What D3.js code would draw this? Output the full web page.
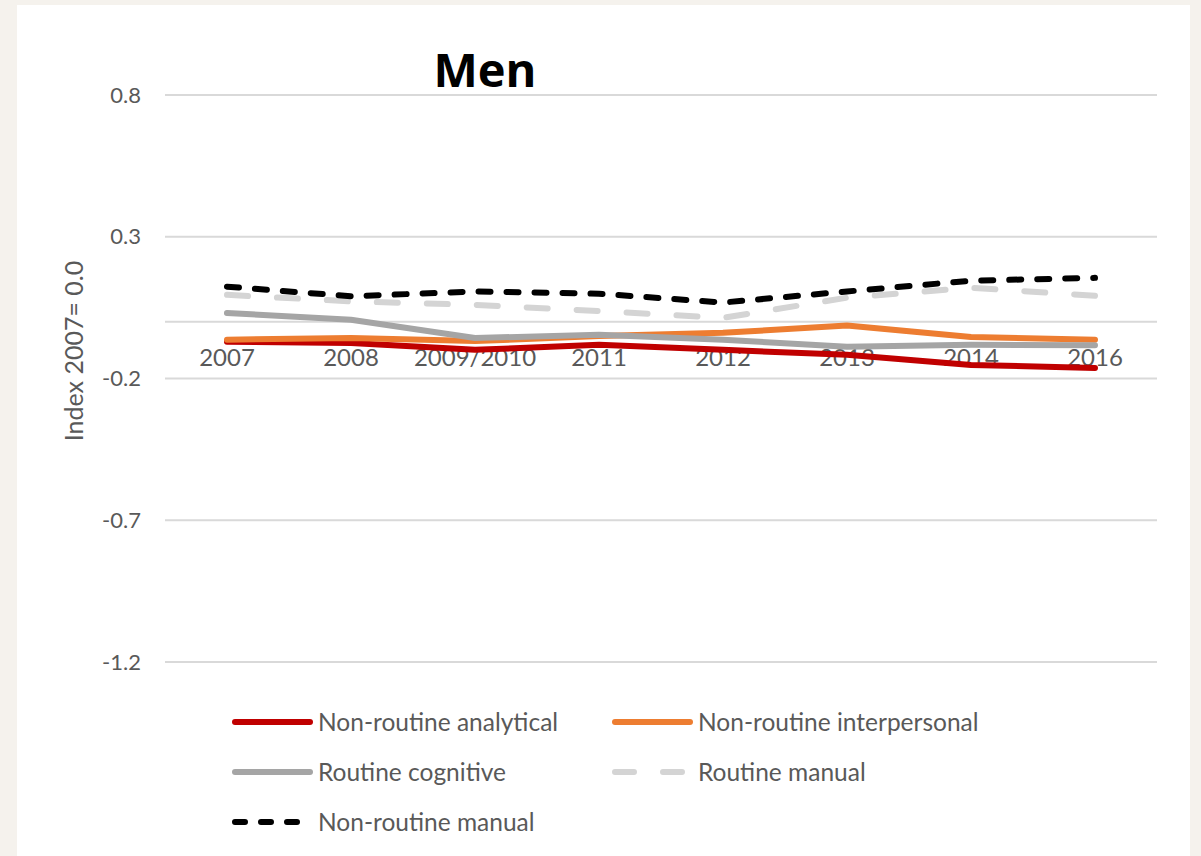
<!DOCTYPE html>
<html>
<head>
<meta charset="utf-8">
<script src="https://cdn.jsdelivr.net/npm/d3@7"></script>
<style>
  body { margin: 0; background: #f5f2ed; }
  svg { display: block; }
</style>
</head>
<body>
<svg width="1201" height="856"></svg>
<script>
const years = ["2007", "2008", "2009/2010", "2011", "2012", "2013", "2014", "2016"];
const yTicks = [0.8, 0.3, -0.2, -0.7, -1.2];

const nonRoutineAnalytical = [-0.07, -0.075, -0.099, -0.081, -0.099, -0.116, -0.152, -0.163];
const nonRoutineInterpersonal = [-0.063, -0.057, -0.068, -0.05, -0.039, -0.013, -0.054, -0.063];
const routineCognitive = [0.031, 0.007, -0.057, -0.046, -0.063, -0.088, -0.081, -0.083];
const routineManual = [0.095, 0.072, 0.06, 0.038, 0.014, 0.085, 0.12, 0.092];
const nonRoutineManual = [0.124, 0.09, 0.107, 0.099, 0.068, 0.107, 0.145, 0.155];

const series = [
  { name: "Non-routine analytical", values: nonRoutineAnalytical, color: "#c00000", dash: null },
  { name: "Non-routine interpersonal", values: nonRoutineInterpersonal, color: "#ed7d31", dash: null },
  { name: "Routine cognitive", values: routineCognitive, color: "#a5a5a5", dash: null },
  { name: "Routine manual", values: routineManual, color: "#d4d4d4", dash: "21,29" },
  { name: "Non-routine manual", values: nonRoutineManual, color: "#000000", dash: "12,16" }
];

const font = "Lato, 'Liberation Sans', sans-serif";
const svg = d3.select("svg");

// white panel
svg.append("rect")
  .attr("x", 17).attr("y", 5)
  .attr("width", 1173).attr("height", 860)
  .attr("fill", "#ffffff");

const x = d3.scalePoint().domain(years).range([165, 1157]).padding(0.5);
const y = d3.scaleLinear().domain([-1.2, 0.8]).range([662, 95]);

// gridlines
svg.append("g")
  .selectAll("line")
  .data(yTicks)
  .join("line")
  .attr("x1", 165).attr("x2", 1157)
  .attr("y1", d => y(d)).attr("y2", d => y(d))
  .attr("stroke", "#d9d9d9")
  .attr("stroke-width", 2);

svg.append("g")
  .selectAll("text")
  .data(yTicks)
  .join("text")
  .attr("x", 141)
  .attr("y", d => y(d))
  .attr("dy", "0.35em")
  .attr("text-anchor", "end")
  .attr("font-family", font)
  .attr("font-size", 22)
  .attr("fill", "#595959")
  .text(d => d.toFixed(1));

// category axis at zero
svg.append("line")
  .attr("x1", 165).attr("x2", 1157)
  .attr("y1", y(0)).attr("y2", y(0))
  .attr("stroke", "#d9d9d9")
  .attr("stroke-width", 2);

svg.append("g")
  .selectAll("text")
  .data(years)
  .join("text")
  .attr("x", d => x(d))
  .attr("y", y(0) + 44)
  .attr("text-anchor", "middle")
  .attr("font-family", font)
  .attr("font-size", 24)
  .attr("fill", "#595959")
  .text(d => d);

// axis title
svg.append("text")
  .attr("transform", "translate(83,351) rotate(-90)")
  .attr("text-anchor", "middle")
  .attr("font-family", font)
  .attr("font-size", 25)
  .attr("fill", "#595959")
  .text("Index 2007= 0.0");

// chart title
svg.append("text")
  .attr("x", 485).attr("y", 87)
  .attr("text-anchor", "middle")
  .attr("font-family", "'Open Sans', sans-serif")
  .attr("font-weight", "bold")
  .attr("font-size", 47)
  .attr("fill", "#000")
  .text("Men");

const line = d3.line()
  .x((d, i) => x(years[i]))
  .y(d => y(d));

svg.append("g")
  .selectAll("path")
  .data(series)
  .join("path")
  .attr("d", d => line(d.values))
  .attr("fill", "none")
  .attr("stroke", d => d.color)
  .attr("stroke-width", 6)
  .attr("stroke-linecap", "round")
  .attr("stroke-linejoin", "round")
  .attr("stroke-dasharray", d => d.dash);

// legend
const legendPos = [
  { x: 232, y: 722 }, { x: 612, y: 722 },
  { x: 232, y: 772 }, { x: 612, y: 772 },
  { x: 232, y: 822 }
];
const legend = svg.append("g")
  .selectAll("g")
  .data(series)
  .join("g")
  .attr("transform", (d, i) => `translate(${legendPos[i].x},${legendPos[i].y})`);

legend.append("line")
  .attr("x1", 3).attr("x2", 78)
  .attr("stroke", d => d.color)
  .attr("stroke-width", 6)
  .attr("stroke-linecap", "round")
  .attr("stroke-dasharray", d => d.name === "Routine manual" ? "19,29" : d.dash === null ? null : "10,16");

legend.append("text")
  .attr("x", 86)
  .attr("dy", "0.35em")
  .attr("font-family", font)
  .attr("font-size", 24.5)
  .attr("fill", "#595959")
  .text(d => d.name);
</script>
</body>
</html>
